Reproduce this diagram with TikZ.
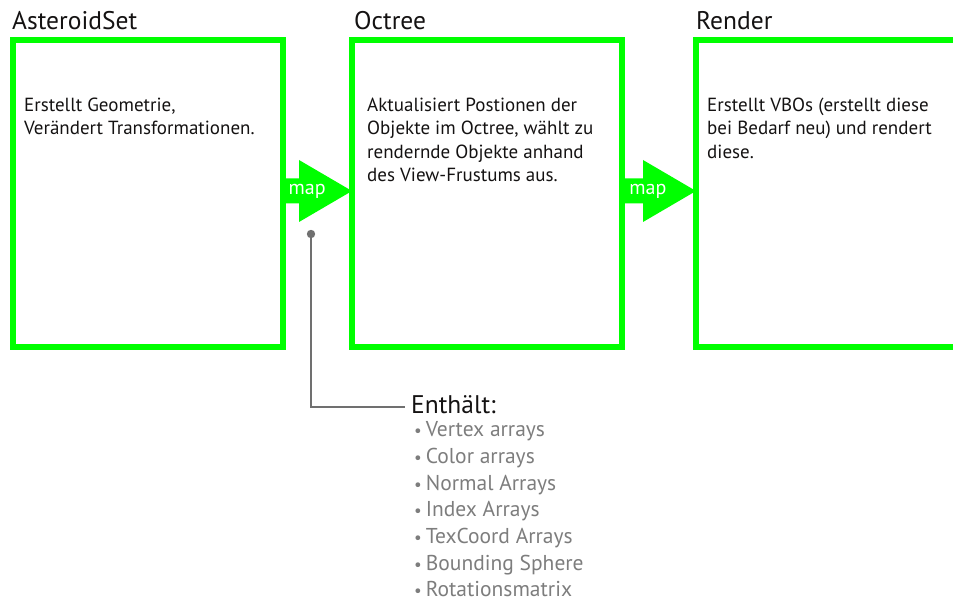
\documentclass[tikz,border=0pt]{standalone}
\usepackage{fontspec}
\setmainfont{PT Sans}
\usetikzlibrary{calc}
\definecolor{boxgreen}{RGB}{0,255,0}
\definecolor{pingray}{RGB}{112,112,112}
\definecolor{listgray}{RGB}{125,125,125}
\definecolor{inkblack}{RGB}{20,18,18}
\tikzset{
  stage/.style={draw=boxgreen, line width=6.5pt, minimum width=270pt,
    minimum height=307pt, inner sep=0pt, outer sep=0pt, anchor=north west},
  stagetitle/.style={anchor=base west, inner sep=0pt, text=inkblack,
    font=\fontsize{25.5}{30}\selectfont},
  desc/.style={anchor=north west, inner sep=0pt, align=left, text=inkblack,
    font=\fontsize{19}{23.5}\selectfont},
  listitem/.style={anchor=base west, inner sep=0pt, text=listgray,
    font=\fontsize{21.5}{24}\selectfont},
  maplabel/.style={text=white, inner sep=0pt, font=\fontsize{20}{22}\selectfont},
}
% green arrow from the right side of one box to the left side of the next
\newcommand{\maparrow}[2]{%
  \fill[boxgreen] ($(#1)+(-3,-12.5)$) -- ($(#2)+(-53,-12.5)$)
    -- ($(#2)+(-53,-31)$) -- (#2) -- ($(#2)+(-53,31)$)
    -- ($(#2)+(-53,12.5)$) -- ($(#1)+(-3,12.5)$) -- cycle;
}
\begin{document}
\begin{tikzpicture}[x=1pt,y=-1pt]
\useasboundingbox (0,0) rectangle (953,609);
\clip (0,0) rectangle (953,609);
% stages
\node[stage] (asteroid) at (13,40) {};
\node[stage] (octree) at (352,40) {};
\node[stage] (render) at (696,40) {};
\node[stagetitle] (asteroid-title) at (12,29.5) {AsteroidSet};
\node[stagetitle] (octree-title) at (354,29.5) {Octree};
\node[stagetitle] (render-title) at (696,29.5) {Render};
\node[desc] (asteroid-text) at (24,97.5) {Erstellt Geometrie,\\Verändert Transformationen.};
\node[desc] (octree-text) at (367,97.5) {Aktualisiert Postionen der\\Objekte im Octree, wählt zu\\rendernde Objekte anhand\\des View-Frustums aus.};
\node[desc] (render-text) at (707,97.5) {Erstellt VBOs (erstellt diese\\bei Bedarf neu) und rendert\\diese.};
% map arrows
\path (asteroid.east) ++(0,-2.5) coordinate (a1);
\path (octree.west) ++(0,-2.5) coordinate (b1);
\path (octree.east) ++(0,-2.5) coordinate (a2);
\path (render.west) ++(0,-2.5) coordinate (b2);
\maparrow{a1}{b1}
\maparrow{a2}{b2}
\node[maplabel] (map1) at ($(a1)!0.35!(b1)$) {map};
\node[maplabel] (map2) at ($(a2)!0.35!(b2)$) {map};
% contents of map
\coordinate (pin) at (311,234);
\node[stagetitle] (contents) at (411,413.5) {Enthält:};
\fill[pingray] (pin) circle (4.2);
\draw[pingray, line width=2pt] (pin) |- ([xshift=-6pt,yshift=-2.5pt]contents.west);
\foreach \txt [count=\i] in {Vertex arrays, Color arrays, Normal Arrays,
    Index Arrays, TexCoord Arrays, Bounding Sphere, Rotationsmatrix}
  \node[listitem] (item\i) at (414,{436.7+26.67*(\i-1)})
    {{\fontsize{17}{20}\selectfont\textbullet}\kern4pt\txt};
\end{tikzpicture}
\end{document}
